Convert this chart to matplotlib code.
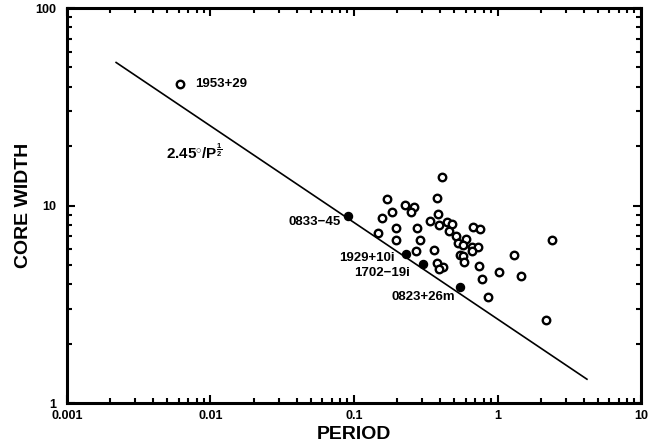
import numpy as np
import matplotlib
matplotlib.use('Agg')
import matplotlib.pyplot as plt
from matplotlib.ticker import LogLocator, FixedLocator, FixedFormatter, NullFormatter

plt.rcParams['font.family'] = ['Liberation Sans', 'DejaVu Sans']
plt.rcParams['mathtext.fontset'] = 'custom'
plt.rcParams['mathtext.rm'] = 'Liberation Sans:bold'
plt.rcParams['mathtext.bf'] = 'Liberation Sans:bold'

# open circles: period (s), core width (deg)
period_open = [0.408, 0.171, 0.377, 0.228, 0.262, 0.249, 0.183, 0.383, 0.157, 0.339,
               0.443, 0.482, 0.391, 0.196, 0.276, 0.671, 0.755, 0.461, 0.146, 0.512,
               0.288, 0.196, 0.600, 0.528, 0.578, 0.667, 0.728, 0.661, 0.272, 0.363,
               0.546, 0.575, 1.30, 0.588, 0.380, 0.415, 0.393, 0.743, 1.02, 1.46,
               0.776, 2.40, 0.855, 2.18, 0.00612]
width_open = [14.0, 10.8, 10.9, 10.1, 9.86, 9.30, 9.30, 9.06, 8.68, 8.35,
              8.22, 8.03, 7.97, 7.72, 7.72, 7.78, 7.58, 7.45, 7.23, 7.01,
              6.69, 6.69, 6.74, 6.48, 6.31, 6.19, 6.19, 5.90, 5.90, 5.95,
              5.61, 5.55, 5.60, 5.18, 5.10, 4.90, 4.79, 4.96, 4.62, 4.41,
              4.23, 6.69, 3.44, 2.62, 41.1]

# filled dots: named pulsars
names_filled = ['0833\u221245', '1929+10i', '1702\u221219i', '0823+26m']
period_filled = [0.0912, 0.230, 0.304, 0.551]
width_filled = [8.88, 5.68, 5.06, 3.88]
label_offsets = [(-8, -6), (-11, -4), (-13, -9), (-5, -10)]

# fitted line ~ 2.45 deg / P^1/2, end points as drawn
fit_p = [0.0022, 4.2]
fit_w = [53.0, 1.32]

fig = plt.figure(figsize=(6.49, 4.48), dpi=100)
ax = fig.add_axes([0.1032, 0.1004, 0.8845, 0.8817])

ax.plot(fit_p, fit_w, color='black', lw=1.2)

ax.plot(period_open, width_open, 'o', ms=5.4, mfc='white', mec='black', mew=1.7)
ax.plot(period_filled, width_filled, 'o', ms=5.8, mfc='black', mec='black')

for name, x, y, off in zip(names_filled, period_filled, width_filled, label_offsets):
    ax.annotate(name, (x, y), xytext=off, textcoords='offset pixels',
                ha='right', va='center', fontsize=9.5, fontweight='bold')

ax.annotate('1953+29', (period_open[-1], width_open[-1]), xytext=(15, 0),
            textcoords='offset pixels', ha='left', va='center',
            fontsize=9.5, fontweight='bold')
ax.text(0.0049, 18.7, r'$\mathbf{2.45^{\circ}/P^{\frac{1}{2}}}$', ha='left', va='center',
        fontsize=11)

ax.set_xscale('log')
ax.set_yscale('log')
ax.set_xlim(0.001, 10)
ax.set_ylim(1, 100)

ax.xaxis.set_major_locator(FixedLocator([0.001, 0.01, 0.1, 1, 10]))
ax.xaxis.set_major_formatter(FixedFormatter(['0.001', '0.01', '0.1', '1', '10']))
ax.yaxis.set_major_locator(FixedLocator([1, 10, 100]))
ax.yaxis.set_major_formatter(FixedFormatter(['1', '10', '100']))
ax.xaxis.set_minor_locator(LogLocator(base=10, subs=np.arange(2, 10)))
ax.yaxis.set_minor_locator(LogLocator(base=10, subs=np.arange(2, 10)))
ax.xaxis.set_minor_formatter(NullFormatter())
ax.yaxis.set_minor_formatter(NullFormatter())

ax.tick_params(which='both', direction='in', top=True, right=True, width=1.5)
ax.tick_params(which='major', length=6, labelsize=9)
ax.tick_params(axis='x', which='major', pad=5)
ax.tick_params(axis='y', which='major', pad=8)
ax.tick_params(which='minor', length=3.5)
for lab in ax.get_xticklabels() + ax.get_yticklabels():
    lab.set_fontweight('bold')
for s in ax.spines.values():
    s.set_linewidth(2.2)

ax.set_xlabel('PERIOD', fontsize=14, fontweight='bold', labelpad=3)
ax.set_ylabel('CORE WIDTH', fontsize=14, fontweight='bold', labelpad=2)

fig.savefig('out.png', dpi=100)
